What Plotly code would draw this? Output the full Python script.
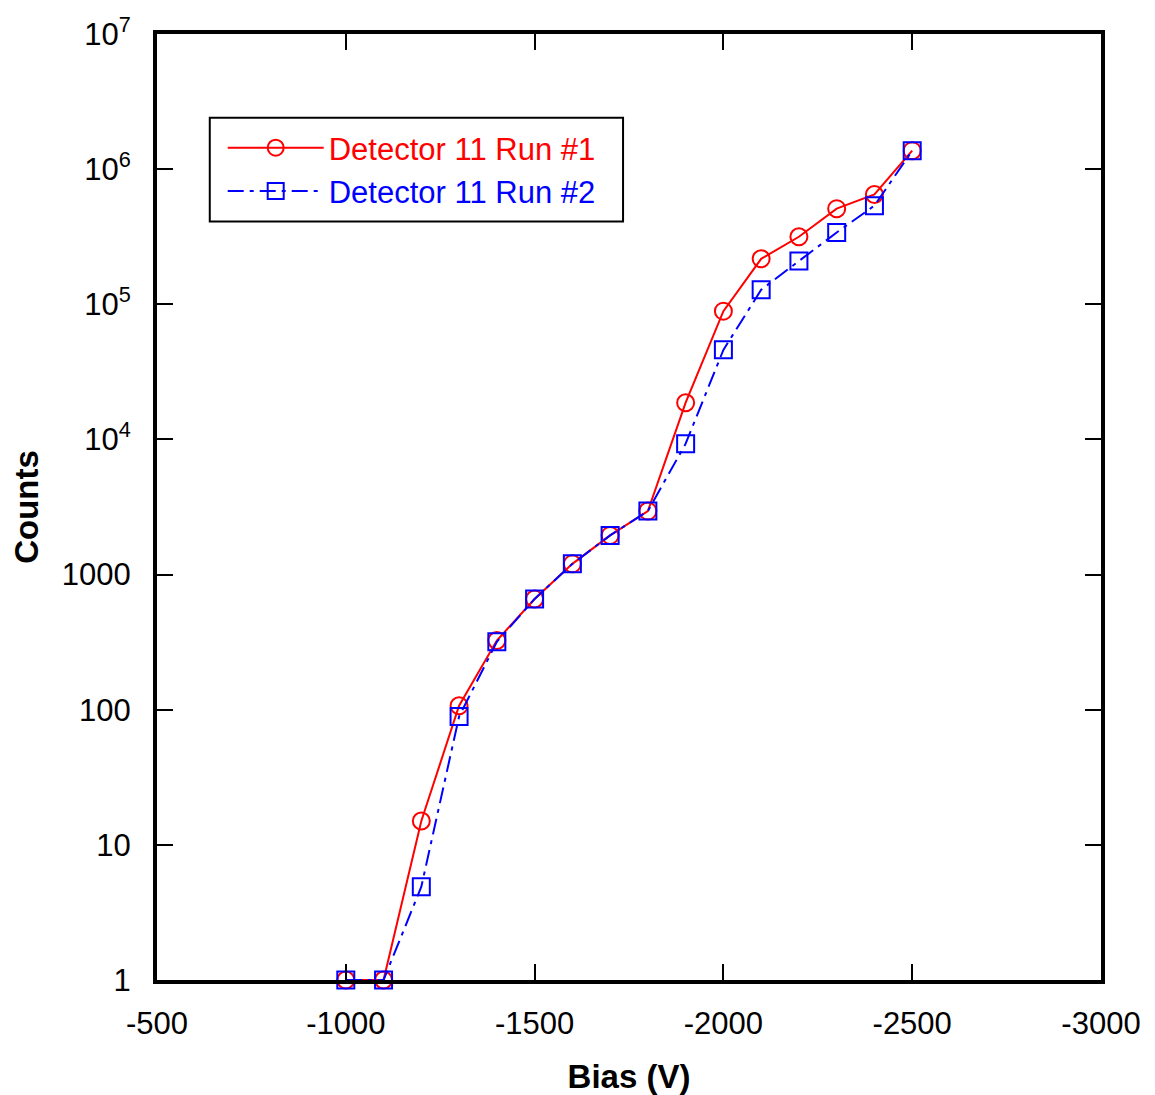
import plotly.graph_objects as go

bias = [-1000, -1100, -1200, -1300, -1400, -1500, -1600, -1700, -1800,
        -1900, -2000, -2100, -2200, -2300, -2400, -2500]
run1 = [1, 1, 15, 107, 325, 660, 1200, 1950, 2950,
        18700, 89000, 217000, 316000, 510000, 650000, 1.37e6]
run2 = [1, 1, 4.9, 89, 318, 660, 1200, 1950, 2950,
        9300, 46000, 128000, 209000, 340000, 537000, 1.37e6]

ytickvals = [1, 10, 100, 1000, 1e4, 1e5, 1e6, 1e7]
yticktext = ["1", "10", "100", "1000", "10<sup>4</sup>", "10<sup>5</sup>",
             "10<sup>6</sup>", "10<sup>7</sup>"]
xtickvals = [-500, -1000, -1500, -2000, -2500, -3000]
xticktext = ["-500", "-1000", "-1500", "-2000", "-2500", "-3000"]

fig = go.Figure()
fig.add_trace(go.Scatter(
    x=bias, y=run1, mode="lines+markers",
    name="<span style='color:#ff0000'>Detector 11 Run #1</span>",
    line=dict(color="#ff0000", width=2),
    marker=dict(symbol="circle-open", size=17, color="#ff0000",
                line=dict(width=2, color="#ff0000")),
))
fig.add_trace(go.Scatter(
    x=bias, y=run2, mode="lines+markers",
    name="<span style='color:#0000ff'>Detector 11 Run #2</span>",
    line=dict(color="#0000ff", width=2, dash="16px,6px,4px,6px"),
    marker=dict(symbol="square-open", size=17, color="#0000ff",
                line=dict(width=2, color="#0000ff")),
))

font = "Liberation Sans, Arial, sans-serif"
fig.update_layout(
    width=1155, height=1095,
    margin=dict(l=149, r=62, t=26, b=123),
    paper_bgcolor="white", plot_bgcolor="white",
    font=dict(family=font, size=31, color="black"),
    showlegend=True,
    legend=dict(
        x=0.0696, y=0.908, xanchor="left", yanchor="top",
        borderwidth=0, bgcolor="rgba(0,0,0,0)",
        font=dict(size=31), tracegroupgap=0, itemwidth=96,
    ),
    shapes=[dict(
        type="rect", xref="paper", yref="paper",
        x0=0.0559, x1=0.4937, y0=0.8019, y1=0.9115,
        line=dict(color="black", width=2), fillcolor="rgba(0,0,0,0)",
        layer="above",
    )],
    xaxis=dict(
        range=[-500, -3000], tickvals=xtickvals, ticktext=xticktext,
        ticks="inside", ticklen=16, tickwidth=2, tickcolor="black",
        showline=True, linewidth=4, linecolor="black", mirror="ticks",
        showgrid=False, zeroline=False, automargin=False,
        title=dict(text="<b>Bias (V)</b>", font=dict(size=33), standoff=26),
        ticklabelstandoff=13,
    ),
    yaxis=dict(
        type="log", range=[0, 7], tickvals=ytickvals, ticktext=yticktext,
        ticks="inside", ticklen=16, tickwidth=2, tickcolor="black",
        showline=True, linewidth=4, linecolor="black", mirror="ticks",
        showgrid=False, zeroline=False, automargin=False,
        title=dict(text="<b>Counts</b>", font=dict(size=33), standoff=26),
        ticklabelstandoff=16,
    ),
)
for t in fig.data:
    t.cliponaxis = False
fig.write_html("out.html")
